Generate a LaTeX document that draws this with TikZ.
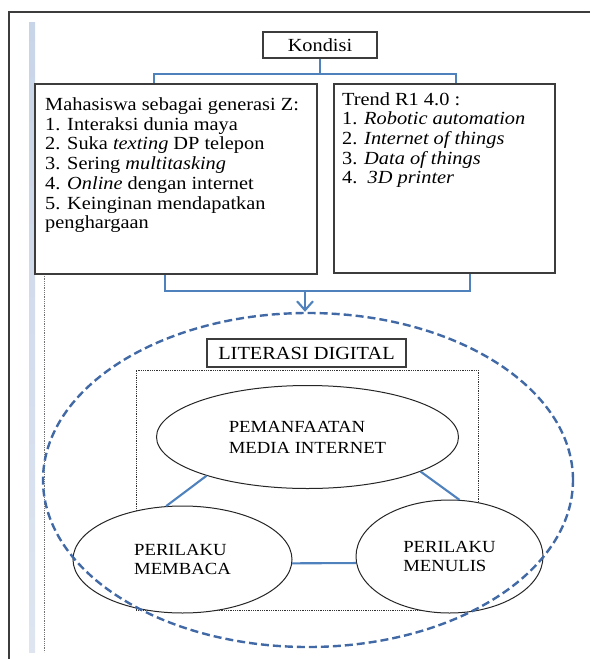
\documentclass[tikz,border=0pt]{standalone}
\usepackage{fontspec}
\setmainfont{Liberation Serif}[FakeStretch=1.1]
\usetikzlibrary{positioning,arrows.meta,shapes.geometric}
\definecolor{lnblue}{RGB}{79,129,189}
\definecolor{dshblue}{RGB}{65,105,165}
\definecolor{barblue}{RGB}{200,212,232}
\definecolor{frgray}{RGB}{60,60,60}
\tikzset{
  txtbox/.style={draw=frgray,line width=1.4pt,inner sep=0pt},
  link/.style={draw=lnblue,line width=2.1pt},
  arrowln/.style={link,-{Straight Barb[length=9pt,width=16pt]}},
  oval/.style={ellipse,draw=black!85,fill=white,line width=1pt,inner sep=0pt,
    align=left,font=\fontsize{17}{19.5}\selectfont},
  dashzone/.style={ellipse,draw=dshblue,line width=2.4pt,dash pattern=on 8pt off 4pt,inner sep=0pt},
  dotbox/.style={draw=black!80,densely dotted,line width=0.8pt,inner sep=0pt},
  body/.style={anchor=north west,inner sep=0pt,align=left,font=\fontsize{18.5}{19.7}\selectfont},
}

\begin{document}
\begin{tikzpicture}[x=1pt,y=-1pt]
  \useasboundingbox (0,0) rectangle (590,659);
  % page edge and margin bar
  \draw[frgray,line width=1.2pt] (9,659) -- (9,12) -- (590,12);
  \shade[top color=barblue,bottom color=barblue!60] (29,22) rectangle (35,652);
  \draw[black!55,densely dotted,line width=0.8pt] (44,274) -- (44,652);

  % upper part
  \node[txtbox,minimum width=114pt,minimum height=26pt,font=\fontsize{18.5}{20}\selectfont] (kondisi) at (320,45) {Kondisi};
  \node[txtbox,minimum width=282pt,minimum height=190pt] (genz) at (176,179) {};
  \node[txtbox,minimum width=221pt,minimum height=189pt] (trend) at (444.5,178.5) {};
  \node[body] (genztxt) at (45,97.5) {Mahasiswa sebagai generasi Z:\\
    1. Interaksi dunia maya\\
    2. Suka \textit{texting} DP telepon\\
    3. Sering \textit{multitasking}\\
    4. \textit{Online} dengan internet\\
    5. Keinginan mendapatkan\\
    penghargaan};
  \node[body] (trendtxt) at (342,92) {Trend R1 4.0 :\\
    1. \textit{Robotic automation}\\
    2. \textit{Internet of things}\\
    3. \textit{Data of things}\\
    4.\ \ \textit{3D printer}};

  \coordinate (tl) at (154,74);
  \coordinate (tr) at (456,74);
  \draw[link] (kondisi.south) -- (kondisi.south |- tl);
  \draw[link] (genz.north -| tl) -- (tl) -- (tr) -- (trend.north -| tr);

  \coordinate (bl) at (165,291);
  \coordinate (br) at (470,291);
  \coordinate (ar) at (305,291);
  \draw[link] (genz.south -| bl) -- (bl) -- (br) -- (trend.south -| br);

  % literasi digital
  \node[dotbox,minimum width=342pt,minimum height=240pt] (inner) at (307,490) {};
  \node[txtbox,minimum width=199pt,minimum height=28pt,font=\fontsize{18.5}{20}\selectfont] (literasi) at (306.5,353) {LITERASI DIGITAL};
  \node[oval,minimum width=302pt,minimum height=103pt,font=\fontsize{17}{21}\selectfont] (internet) at (307.5,437) {PEMANFAATAN\\MEDIA INTERNET};
  \node[oval,minimum width=219pt,minimum height=107pt] (membaca) at (182.5,559.5) {PERILAKU\\MEMBACA};
  \node[oval,minimum width=187pt,minimum height=113pt] (menulis) at (449.5,556.5) {PERILAKU\\MENULIS};
  \node[dashzone,minimum width=530pt,minimum height=334pt] (digital) at (308,480) {};

  \draw[arrowln] (ar) -- (ar |- digital.north);
  \draw[link] (internet.201) -- (membaca.107);
  \draw[link] (internet.343) -- (menulis.80);
  \draw[link] (membaca.358) -- (menulis.184);
\end{tikzpicture}
\end{document}
